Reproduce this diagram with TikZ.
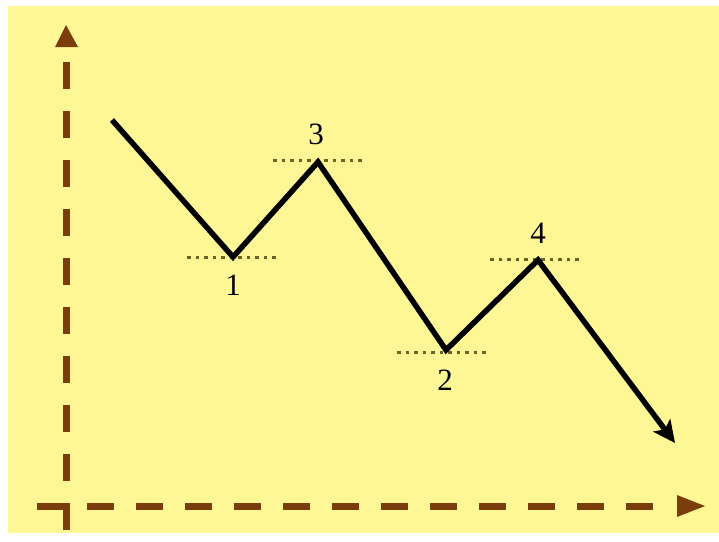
\documentclass[tikz,border=0pt]{standalone}
\usepackage{fontspec}
\setmainfont{Liberation Serif}
\usetikzlibrary{arrows.meta}
\definecolor{bgyellow}{RGB}{255,247,150}
\definecolor{axisbrown}{RGB}{122,62,12}
\definecolor{dotolive}{RGB}{105,100,35}
\tikzset{
  axisline/.style={axisbrown, line width=7pt, line cap=butt},
  axisdash/.style={axisline, dash pattern=on 27pt off 22pt},
  axishead/.style={fill=axisbrown, draw=none},
  zigzag/.style={black, line width=5.5pt, line join=miter},
  level/.style={dotolive, line width=3pt, dash pattern=on 3.5pt off 5pt},
  lbl/.style={font=\fontsize{31}{31}\selectfont, inner sep=0pt}
}
\begin{document}
\begin{tikzpicture}[x=1pt, y=-1pt]
\useasboundingbox (0,0) rectangle (719,541);
\fill[white] (0,0) rectangle (719,541);
\fill[bgyellow] (8,6) rectangle (719,533);
% axes
\draw[axisdash] (66,62) -- (66,482);
\draw[axisdash] (87,506) -- (655,506);
\draw[axisline, line join=miter] (37,506) -- (66,506) -- (66,530);
\fill[axishead] (66,25) -- (55,47) -- (78,47) -- cycle;
\fill[axishead] (705,506) -- (677,495) -- (677,517) -- cycle;
% zigzag points
\coordinate (s) at (112,120);
\coordinate (p1) at (233,257);
\coordinate (p3) at (318,162);
\coordinate (p2) at (446,350);
\coordinate (p4) at (538,260);
\coordinate (e) at (675,443);
% level lines
\draw[level] (187,257) -- (278,257);
\draw[level] (273,160) -- (365,160);
\draw[level] (397,352) -- (488,352);
\draw[level] (490,259) -- (582,259);
\draw[zigzag, -{Stealth[length=22pt, width=21pt, inset=5pt]}] (s) -- (p1) -- (p3) -- (p2) -- (p4) -- (e);
% labels
\node[lbl] (l1) at (233,285) {1};
\node[lbl] (l3) at (316,134) {3};
\node[lbl] (l2) at (445,380) {2};
\node[lbl] (l4) at (538,233) {4};
\end{tikzpicture}
\end{document}
